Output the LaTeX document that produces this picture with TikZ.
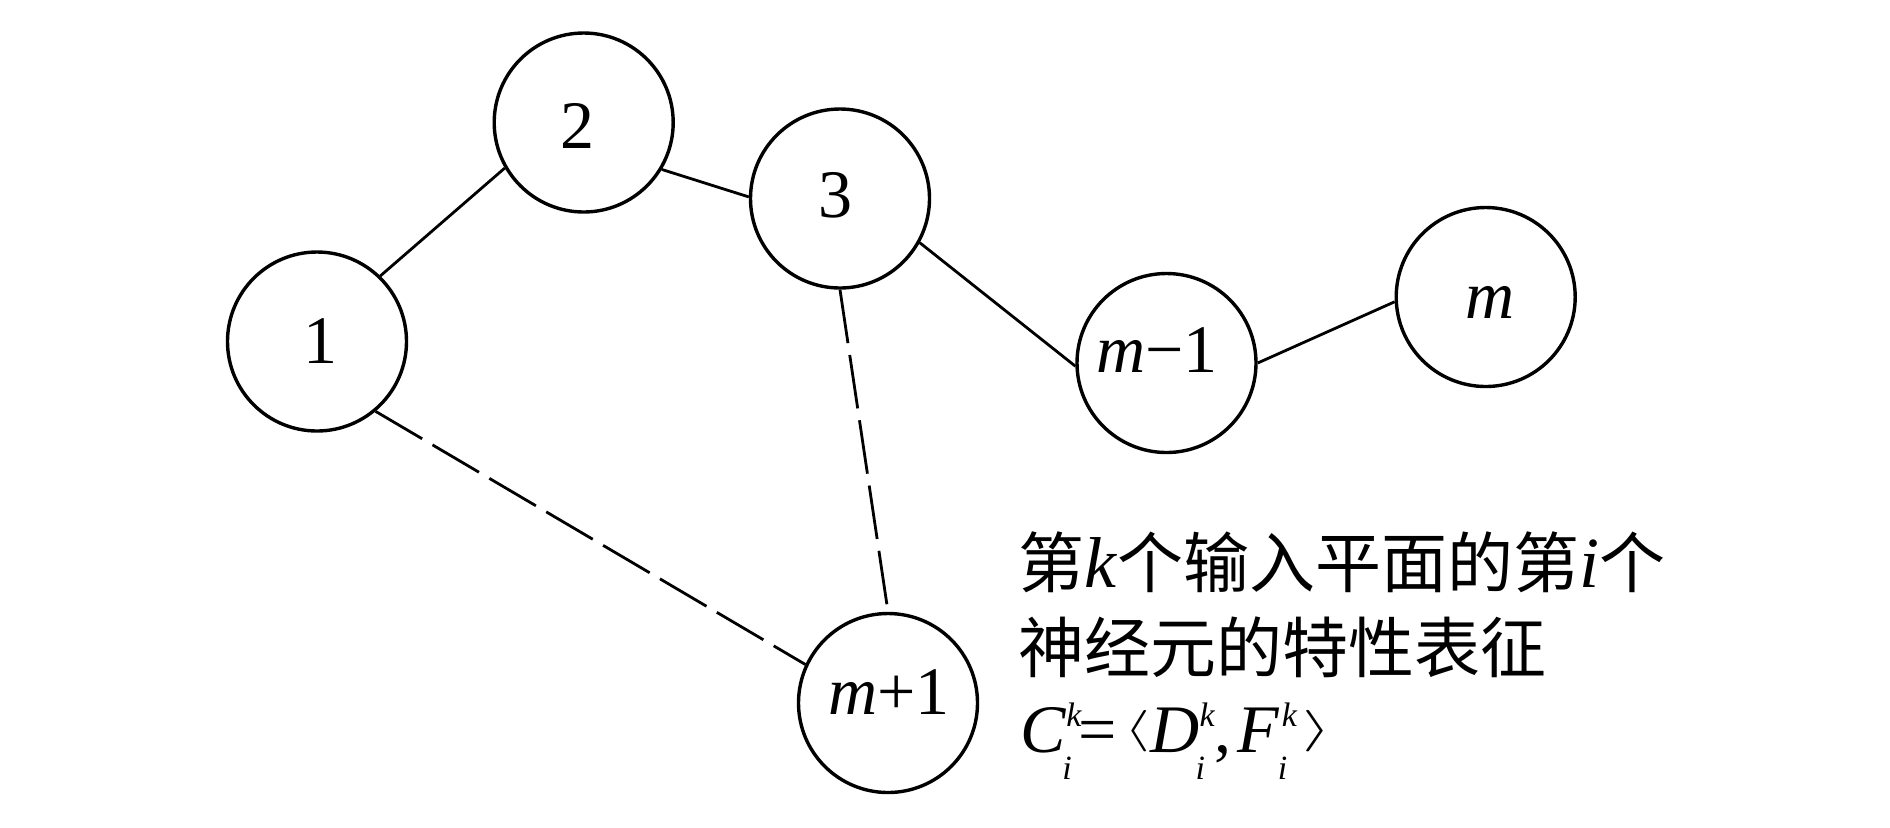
\documentclass[tikz,border=0pt]{standalone}
\usepackage{graphicx}
\usepackage{fontspec}
\setmainfont{Liberation Serif}
\newfontfamily\cjk{Noto Sans CJK SC}
\newcommand{\scr}[1]{{\fontsize{17}{17}\selectfont\textit{#1}}}
\newcommand{\kisub}{\makebox[7.5pt][l]{\rlap{\raisebox{13pt}{\scr{k}}}\hspace{-2pt}\raisebox{-13.5pt}{\scr{i}}}}
\newcommand{\angl}[2]{\raisebox{5.5pt}{\scalebox{#1}[1]{\fontsize{22.5}{22.5}\selectfont$#2$}}}
\tikzset{
  neuron/.style={draw, circle, line width=1.7pt, minimum size=89.5pt, inner sep=0pt},
  lbl/.style={font=\fontsize{34}{40}\selectfont, inner sep=0pt},
  link/.style={line width=1.4pt},
  weak/.style={line width=1.4pt, dash pattern=on 27pt off 6pt},
  txt/.style={anchor=base west, inner sep=0pt, font=\fontsize{33}{40}\selectfont}
}
\begin{document}
\begin{tikzpicture}[x=0.5pt,y=-0.5pt]
\useasboundingbox (0,0) rectangle (1890,827);
\node[neuron, label={[lbl,xshift=1.5pt]center:1}] (n1) at (317,341.5) {};
\node[neuron, label={[lbl,xshift=-3.2pt,yshift=-1.7pt]center:2}] (n2) at (583.7,122.5) {};
\node[neuron, label={[lbl,xshift=-2.5pt,yshift=1.7pt]center:3}] (n3) at (840,198.5) {};
\node[neuron, label={[lbl,xshift=-4.7pt,yshift=6.5pt]center:\textit{m}−1}] (nm1) at (1166.5,363) {};
\node[neuron, label={[lbl,xshift=2pt,yshift=-2.5pt]center:\textit{m}}] (nm) at (1485.7,297) {};
\node[neuron, label={[lbl,xshift=0.5pt,yshift=5.7pt]center:\textit{m}+1}] (np1) at (888,703) {};

\draw[link] (n1.46.7) -- (n2.210);
\draw[link] (n2.-31.3) -- (n3.179);
\draw[link] (n3.-29.4) -- (nm1.182.3);
\draw[link] (nm1.0) -- (nm.183);
\draw[weak] (n1.-50) -- (np1.155.4);
\draw[weak] (n3.-90) -- (np1.90);

\node[txt] (t1) at (1018,587) {{\cjk 第}{\fontsize{36}{40}\selectfont\textit{k}}{\cjk 个输入平面的第}{\fontsize{36}{40}\selectfont\textit{i}}{\cjk 个}};
\node[txt] (t2) at (1018,672) {\cjk 神经元的特性表征};
\node[txt] (t3) at (1020,752) {\fontsize{34}{40}\selectfont\textit{C}\kisub\hspace{-1.5pt}=\hspace{4pt}\angl{1.6}{\langle}\textit{D}\kisub,\hspace{3pt}\textit{F}\hspace{1pt}\kisub\hspace{3pt}\angl{1.8}{\rangle}};
\end{tikzpicture}
\end{document}
